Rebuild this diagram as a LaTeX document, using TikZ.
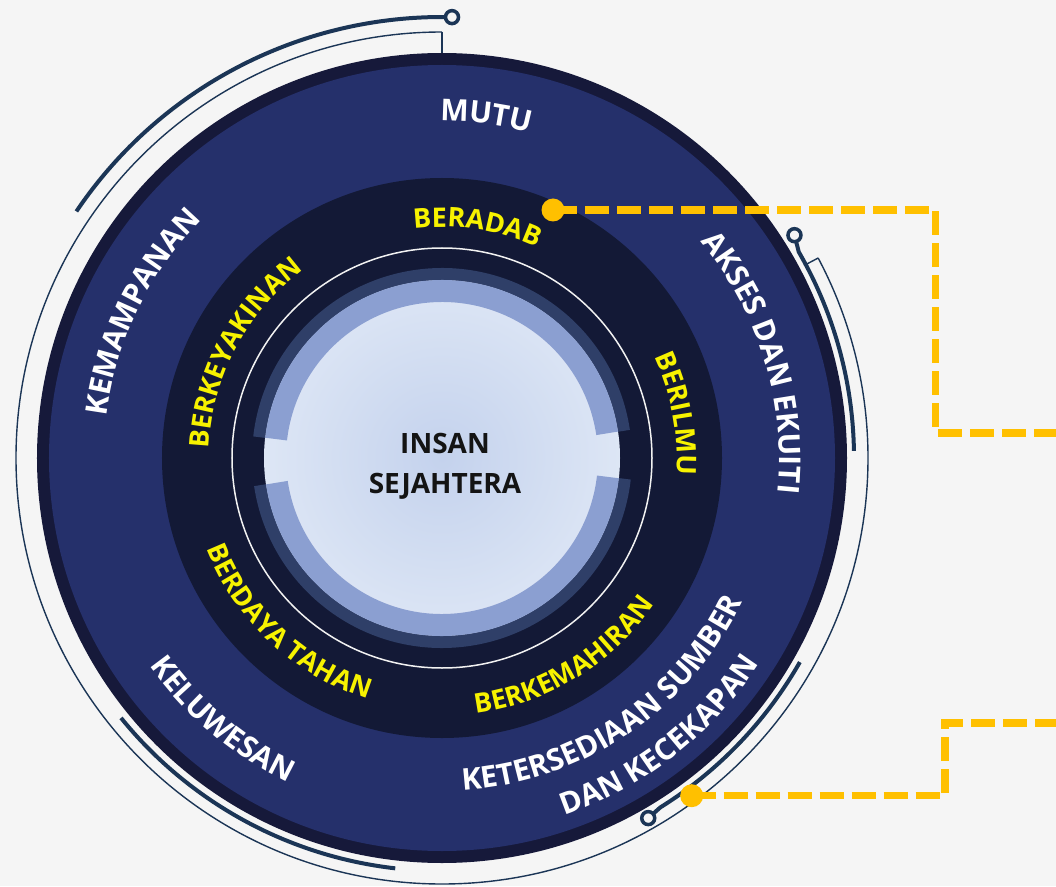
\documentclass[tikz,border=0pt]{standalone}
\usepackage{fontspec}
\setmainfont{Open Sans}
\usetikzlibrary{decorations.text}
\definecolor{paper}{HTML}{F5F5F5}
\definecolor{rim}{HTML}{16193A}
\definecolor{band}{HTML}{25306B}
\definecolor{core}{HTML}{131936}
\definecolor{wirecol}{HTML}{1B3556}
\definecolor{halo}{HTML}{2F3F68}
\definecolor{glow}{HTML}{8B9FD1}
\definecolor{diskin}{HTML}{C4D2ED}
\definecolor{diskout}{HTML}{DDE6F5}
\definecolor{gold}{HTML}{FFC000}
\definecolor{lemon}{HTML}{F7F200}
\newcommand{\whitefont}{\fontsize{30}{36}\selectfont\bfseries}
\newcommand{\lemonfont}{\fontsize{27}{32}\selectfont\bfseries}
\tikzset{%
	thickwire/.style={draw=wirecol,line width=4pt},
	thinwire/.style={draw=wirecol,line width=1.4pt},
	knob/.style={draw=wirecol,line width=3.5pt,fill=paper},
	link/.style={draw=gold,line width=7.5pt,dash pattern=on 24pt off 8pt},
	golddot/.style={circle,fill=gold,inner sep=0pt,minimum size=23pt},
	outertext/.style={decorate,decoration={text along path,text align=center,text color=white,text={|\whitefont|#1}}},
	innertext/.style={decorate,decoration={text along path,text align=center,text color=lemon,text={|\lemonfont|#1}}},
}
\begin{document}
\begin{tikzpicture}[x=1pt,y=1pt]
	\fill[paper] (-442,-428) rectangle (614,458);
	\useasboundingbox (-442,-428) rectangle (614,458);
	
	%garis luar
	\draw[thinwire] (90:426) arc[start angle=90,end angle=388,radius=426];
	\draw[thinwire] (90:405) -- (90:426);
	\draw[thinwire] (28:410) -- (28:426);
	\draw[thickwire] (146:441) arc[start angle=146,end angle=88.7,radius=441];
	\draw[knob] (88.7:441) circle (6.5);
	\draw[thickwire] (32.3:417) -- (30:412) arc[start angle=30,end angle=1,radius=412];
	\draw[knob] (32.3:417) circle (6.5);
	\draw[thickwire] (219:413) arc[start angle=219,end angle=263.5,radius=413];
	\draw[thickwire] (-29.7:412) arc[start angle=-29.7,end angle=-58,radius=412] -- (-60.2:415);
	\draw[knob] (-60.2:415) circle (6.5);
	
	%bulatan
	\fill[rim] (0,0) circle (405);
	\fill[band] (0,0) circle (393);
	\fill[core] (0,0) circle (280);
	\draw[white!90!gray,line width=1.5pt] (0,0) circle (210);
	\shade[inner color=diskin,outer color=diskout] (0,0) circle (178);
	\draw[halo,line width=12pt] (8.5:184) arc[start angle=8.5,end angle=173.5,radius=184];
	\draw[halo,line width=12pt] (188.5:184) arc[start angle=188.5,end angle=353.5,radius=184];
	\draw[glow,line width=22pt] (8.5:167) arc[start angle=8.5,end angle=173.5,radius=167];
	\draw[glow,line width=22pt] (188.5:167) arc[start angle=188.5,end angle=353.5,radius=167];
	\node[font=\fontsize{28}{40}\selectfont\bfseries,align=center,text=black!92] (insan) at (3,-8) {INSAN\\SEJAHTERA};
	
	%teks luar
	\path[outertext=MUTU] (142.6:337) arc[start angle=142.6,end angle=22.6,radius=337];
	\path[outertext=KEMAMPANAN] (214:338) arc[start angle=214,end angle=94,radius=338];
	\path[outertext=AKSES DAN EKUITI] (77:337) arc[start angle=77,end angle=-43,radius=337];
	\path[outertext=KELUWESAN] (170:359) arc[start angle=170,end angle=290,radius=359];
	\path[outertext=KETERSEDIAAN SUMBER] (-116:333) arc[start angle=-116,end angle=4,radius=333];
	\path[outertext=DAN KECEKAPAN] (-112:378) arc[start angle=-112,end angle=8,radius=378];
	
	%teks dalam
	\path[innertext=BERADAB] (141.3:231) arc[start angle=141.3,end angle=21.3,radius=231];
	\path[innertext=BERKEYAKINAN] (212:233) arc[start angle=212,end angle=92,radius=233];
	\path[innertext=BERILMU] (70.75:235) arc[start angle=70.75,end angle=-49.25,radius=235];
	\path[innertext=BERKEMAHIRAN] (-118.5:258) arc[start angle=-118.5,end angle=1.5,radius=258];
	\path[innertext=BERDAYA TAHAN] (167:252) arc[start angle=167,end angle=287,radius=252];
	
	%penunjuk
	\node[golddot] (dotA) at (111,248) {};
	\coordinate (turnA) at (493.7,25);
	\coordinate (endA) at (614,25);
	\draw[link] (dotA.center) -| (turnA) -- (endA);
	\node[golddot] (dotB) at (249.7,-337.7) {};
	\coordinate (turnB) at (503,-265);
	\coordinate (endB) at (614,-265);
	\draw[link] (dotB.center) -| (turnB) -- (endB);
\end{tikzpicture}
\end{document}
